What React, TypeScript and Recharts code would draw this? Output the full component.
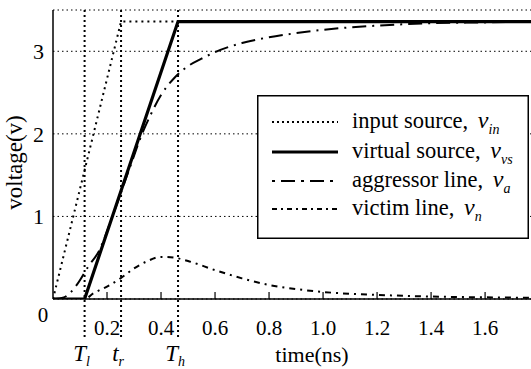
import React from 'react';
import { LineChart, Line, XAxis, YAxis, CartesianGrid, ReferenceLine } from 'recharts';

// time (ns) / voltage (V) samples
const inputT = [0, 0.252, 1.77];
const inputV = [0, 3.36, 3.36];

const virtualT = [0, 0.117, 0.463, 1.77];
const virtualV = [0, 0, 3.36, 3.36];

const aggressorT = [0, 0.04, 0.09, 0.13, 0.17, 0.22, 0.28, 0.33, 0.36, 0.4, 0.45, 0.5, 0.55, 0.6, 0.7, 0.8, 0.9, 1.0, 1.1, 1.2, 1.4, 1.6, 1.77];
const aggressorV = [0, 0.02, 0.18, 0.39, 0.58, 1.0, 1.55, 2.0, 2.22, 2.47, 2.68, 2.82, 2.91, 2.99, 3.1, 3.17, 3.22, 3.26, 3.29, 3.31, 3.34, 3.35, 3.36];

const victimT = [0, 0.117, 0.15, 0.2, 0.25, 0.3, 0.35, 0.4, 0.45, 0.5, 0.6, 0.7, 0.8, 0.9, 1.0, 1.2, 1.4, 1.6, 1.77];
const victimV = [0, 0, 0.07, 0.15, 0.25, 0.37, 0.46, 0.51, 0.5, 0.46, 0.35, 0.25, 0.17, 0.12, 0.085, 0.05, 0.03, 0.02, 0.015];

const xTicks = [0, 0.2, 0.4, 0.6, 0.8, 1.0, 1.2, 1.4, 1.6];
const yTicks = [1, 2, 3];

// marker times: T_l, t_r, T_h
const markers = [
  { t: 0.117, main: 'T', sub: 'l' },
  { t: 0.252, main: 't', sub: 'r' },
  { t: 0.463, main: 'T', sub: 'h' },
];

const zip = (ts: number[], vs: number[]) => ts.map((t, i) => ({ t, v: vs[i] }));

const inputData = zip(inputT, inputV);
const virtualData = zip(virtualT, virtualV);
const aggressorData = zip(aggressorT, aggressorV);
const victimData = zip(victimT, victimV);

const FONT = 'Liberation Serif, DejaVu Serif, serif';

const series = [
  { name: 'input source, ', sym: 'in', dash: '2 3', width: 1.8 },
  { name: 'virtual source, ', sym: 'vs', dash: undefined, width: 3 },
  { name: 'aggressor line, ', sym: 'a', dash: '3 6 14 6', width: 1.8 },
  { name: 'victim line, ', sym: 'n', dash: '5 4 2 4', width: 1.8 },
];
const legendBaselines = [33, 63, 92, 120];

const XTick = (props: any) => {
  const { x, y, payload } = props;
  if (payload.value === 0) {
    return (
      <text x={x - 10} y={y + 23} textAnchor="middle" fontSize={21} fontFamily={FONT} fill="#000">0</text>
    );
  }
  return (
    <g>
      <line x1={x} y1={y} x2={x} y2={y - 7} stroke="#000" strokeWidth={1.2} />
      <text x={x} y={y + 36} textAnchor="middle" fontSize={21} fontFamily={FONT} fill="#000">
        {payload.value.toFixed(1)}
      </text>
    </g>
  );
};

const markerShape = (m: { main: string; sub: string }) => (p: any) => {
  const top = Math.min(p.y1, p.y2);
  const bottom = Math.max(p.y1, p.y2);
  return (
    <g>
      <line x1={p.x1} y1={top} x2={p.x2} y2={bottom + 39} stroke="#000" strokeWidth={2} strokeDasharray="2 3" />
      <text x={p.x1 - 3} y={bottom + 62} textAnchor="middle" fontSize={23} fontStyle="italic" fontFamily={FONT} fill="#000">
        {m.main}
        <tspan fontSize={14} dy={5}>{m.sub}</tspan>
      </text>
    </g>
  );
};

const LegendBox = () => (
  <svg width={272} height={144} style={{ position: 'absolute', left: 257, top: 95 }}>
    <rect x={0.75} y={0.75} width={270.5} height={142.5} fill="#fff" stroke="#000" strokeWidth={1.5} />
    {series.map((s, i) => (
      <g key={s.sym}>
        <line
          x1={15}
          y1={legendBaselines[i] - 6}
          x2={81}
          y2={legendBaselines[i] - 6}
          stroke="#000"
          strokeWidth={s.width}
          strokeDasharray={s.dash}
        />
        <text x={95} y={legendBaselines[i]} fontSize={22.5} fontFamily={FONT} fill="#000">
          {s.name}
          <tspan fontStyle="italic" fontSize={24} dx={4}>v</tspan>
          <tspan fontStyle="italic" fontSize={14} dy={6}>{s.sym}</tspan>
        </text>
      </g>
    ))}
  </svg>
);

export default function App() {
  return (
    <div style={{ position: 'relative', width: 531, height: 369, background: '#fff', overflow: 'hidden' }}>
      <style>{'body{margin:0}'}</style>
      <LineChart width={531} height={369} margin={{ top: 10, right: 0, bottom: 0, left: 0 }}>
        <CartesianGrid vertical={false} stroke="#000" strokeWidth={1} strokeDasharray="1.5 3" />
        <XAxis
          type="number"
          dataKey="t"
          domain={[0, 1.77]}
          allowDataOverflow
          ticks={xTicks}
          interval={0}
          height={70}
          tickSize={0}
          tickMargin={0}
          tickLine={false}
          tick={<XTick />}
          axisLine={{ stroke: '#000', strokeWidth: 1.5 }}
          label={{
            content: (p: any) => (
              <text x={p.viewBox.x + p.viewBox.width / 2 + 20} y={p.viewBox.y + 63} textAnchor="middle" fontSize={22} fontFamily={FONT} fill="#000">
                time(ns)
              </text>
            ),
          }}
        />
        <YAxis
          type="number"
          domain={[0, 3.5]}
          allowDataOverflow
          ticks={yTicks}
          interval={0}
          width={53}
          tickSize={0}
          tickMargin={9}
          tickLine={false}
          tick={{ fontSize: 22, fontFamily: FONT, fill: '#000' }}
          axisLine={{ stroke: '#000', strokeWidth: 1.5 }}
          label={{
            content: (p: any) => (
              <text
                transform={`translate(22, ${p.viewBox.y + p.viewBox.height / 2 + 8}) rotate(-90)`}
                textAnchor="middle"
                fontSize={23}
                fontFamily={FONT}
                fill="#000"
              >
                voltage(v)
              </text>
            ),
          }}
        />
        {markers.map((m) => (
          <ReferenceLine key={m.sub} x={m.t} stroke="#000" ifOverflow="visible" shape={markerShape(m)} />
        ))}
        <Line data={inputData} dataKey="v" type="linear" stroke="#000" strokeWidth={2} strokeDasharray="2 4" dot={false} isAnimationActive={false} />
        <Line data={aggressorData} dataKey="v" type="monotone" stroke="#000" strokeWidth={2} strokeDasharray="14 6 2 6" dot={false} isAnimationActive={false} />
        <Line data={victimData} dataKey="v" type="monotone" stroke="#000" strokeWidth={2} strokeDasharray="6 5 2 5" dot={false} isAnimationActive={false} />
        <Line data={virtualData} dataKey="v" type="linear" stroke="#000" strokeWidth={3.2} dot={false} isAnimationActive={false} />
      </LineChart>
      <LegendBox />
    </div>
  );
}
